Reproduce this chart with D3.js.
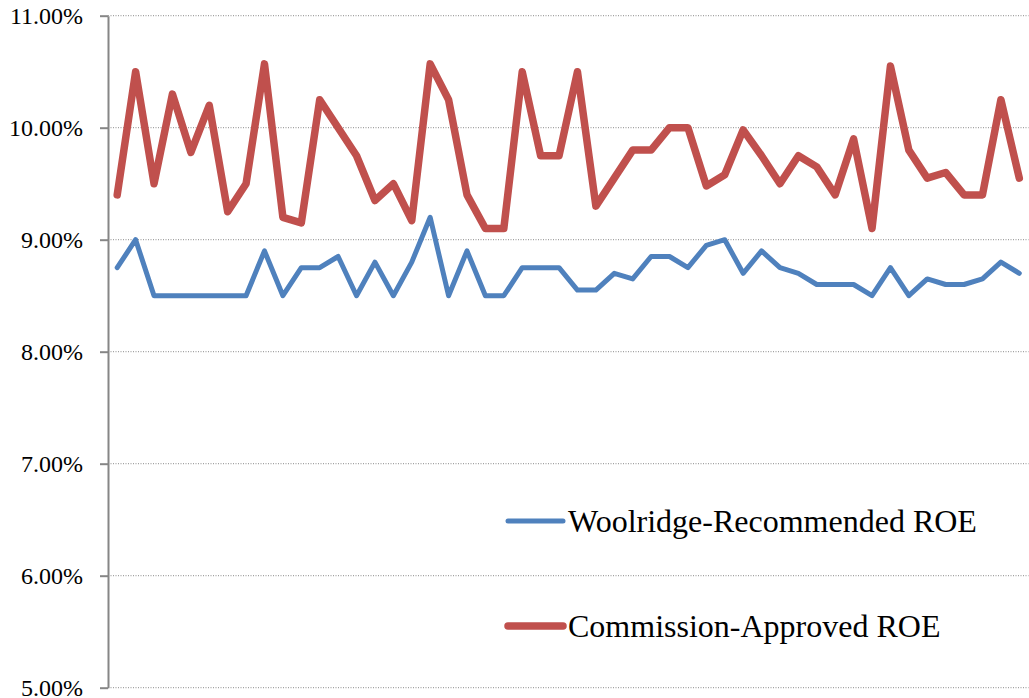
<!doctype html>
<html>
<head>
<meta charset="UTF-8">
<title>ROE chart</title>
<style>
  body { margin: 0; background: #fff; }
  svg { display: block; }
</style>
</head>
<body>
<div id="chart"></div>
<script src="https://cdn.jsdelivr.net/npm/d3@7/dist/d3.min.js"></script>
<script>
  // one value per rate case, in percent
  var woolridge = [
    8.75, 9.00, 8.50, 8.50, 8.50, 8.50, 8.50, 8.50, 8.90, 8.50,
    8.75, 8.75, 8.85, 8.50, 8.80, 8.50, 8.80, 9.20, 8.50, 8.90,
    8.50, 8.50, 8.75, 8.75, 8.75, 8.55, 8.55, 8.70, 8.65, 8.85,
    8.85, 8.75, 8.95, 9.00, 8.70, 8.90, 8.75, 8.70, 8.60, 8.60,
    8.60, 8.50, 8.75, 8.50, 8.65, 8.60, 8.60, 8.65, 8.80, 8.70
  ];
  var commission = [
    9.40, 10.50, 9.50, 10.30, 9.78, 10.20, 9.25, 9.50, 10.57, 9.20,
    9.15, 10.25, 10.00, 9.75, 9.35, 9.50, 9.17, 10.57, 10.25, 9.40,
    9.10, 9.10, 10.50, 9.75, 9.75, 10.50, 9.30, 9.55, 9.80, 9.80,
    10.00, 10.00, 9.48, 9.58, 9.98, 9.75, 9.50, 9.75, 9.65, 9.40,
    9.90, 9.10, 10.55, 9.80, 9.55, 9.60, 9.40, 9.40, 10.25, 9.55
  ];
  var yTicks = [5, 6, 7, 8, 9, 10, 11];
  var seriesNames = ["Woolridge-Recommended ROE", "Commission-Approved ROE"];
  var seriesColors = ["#4F81BD", "#C0504D"];

  var width = 1029, height = 698;
  var plotLeft = 108, plotRight = 1028.5, plotTop = 15.7, plotBottom = 687.7;
  var font = "'Liberation Serif', 'Times New Roman', serif";

  var svg = d3.select("#chart").append("svg")
    .attr("width", width)
    .attr("height", height);

  var x = d3.scalePoint()
    .domain(d3.range(commission.length))
    .range([plotLeft, plotRight])
    .padding(0.5);

  var y = d3.scaleLinear()
    .domain([5, 11])
    .range([plotBottom, plotTop]);

  // dotted gridlines
  svg.append("g")
    .selectAll("line")
    .data(yTicks)
    .join("line")
    .attr("x1", plotLeft)
    .attr("x2", plotRight)
    .attr("y1", function(d) { return y(d); })
    .attr("y2", function(d) { return y(d); })
    .attr("stroke", "#8c8c8c")
    .attr("stroke-width", 1)
    .attr("stroke-dasharray", "1,1.5");

  var axis = svg.append("g")
    .attr("transform", "translate(" + plotLeft + ",0)")
    .call(d3.axisLeft(y)
      .tickValues(yTicks)
      .tickFormat(function(d) { return d.toFixed(2) + "%"; })
      .tickSize(8)
      .tickPadding(17)
      .tickSizeOuter(0));

  axis.select(".domain").attr("stroke", "#868686").attr("stroke-width", 2);
  axis.selectAll(".tick line").attr("stroke", "#868686").attr("stroke-width", 2);
  axis.selectAll(".tick text")
    .attr("font-family", font)
    .attr("font-size", "24px")
    .attr("fill", "#000");

  var line = d3.line()
    .x(function(d, i) { return x(i); })
    .y(function(d) { return y(d); });

  svg.append("path")
    .datum(woolridge)
    .attr("d", line)
    .attr("fill", "none")
    .attr("stroke", seriesColors[0])
    .attr("stroke-width", 5)
    .attr("stroke-linejoin", "round")
    .attr("stroke-linecap", "round");

  svg.append("path")
    .datum(commission)
    .attr("d", line)
    .attr("fill", "none")
    .attr("stroke", seriesColors[1])
    .attr("stroke-width", 7.5)
    .attr("stroke-linejoin", "round")
    .attr("stroke-linecap", "round");

  // legend
  var legendY = [521, 626];
  var legend = svg.append("g")
    .selectAll("g")
    .data(seriesNames)
    .join("g")
    .attr("transform", function(d, i) { return "translate(508," + legendY[i] + ")"; });

  legend.append("line")
    .attr("x1", 0)
    .attr("x2", 55)
    .attr("stroke", function(d, i) { return seriesColors[i]; })
    .attr("stroke-width", function(d, i) { return i === 0 ? 5 : 7.5; })
    .attr("stroke-linecap", "round");

  legend.append("text")
    .attr("x", 60)
    .attr("y", 10.5)
    .attr("font-family", font)
    .attr("font-size", "32px")
    .attr("fill", "#000")
    .text(function(d) { return d; });
</script>
</body>
</html>
